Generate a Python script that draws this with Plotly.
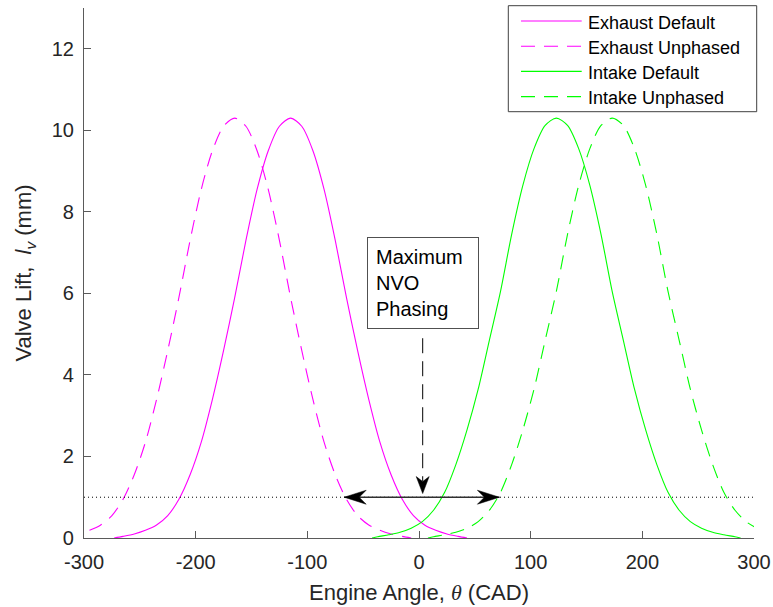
import plotly.graph_objects as go

# ---- valve lift traces: engine angle (CAD) vs valve lift (mm) ----
EXH_DEFAULT_DEG = [-273, -265, -255, -245, -235, -225, -215, -205, -195, -185, -175,
                   -165, -155, -145, -135, -125, -115, -105, -95, -85, -75, -65, -55,
                   -45, -35, -25, -15, -5, 5, 15, 25, 35, 43]
EXH_DEFAULT_LIFT = [0.0, 0.04, 0.10, 0.19, 0.32, 0.55, 0.95, 1.55, 2.35, 3.40, 4.60,
                    5.90, 7.30, 8.55, 9.50, 10.10, 10.30, 10.10, 9.50, 8.55, 7.30, 5.90,
                    4.60, 3.40, 2.35, 1.55, 0.95, 0.55, 0.32, 0.19, 0.10, 0.04, 0.0]

EXH_UNPHASED_DEG = [-315, -305, -295, -285, -275, -265, -255, -245, -235, -225, -215,
                    -205, -195, -185, -175, -165, -155, -145, -135, -125, -115, -105,
                    -95, -85, -75, -65, -55, -45, -35, -25, -15, -7]
EXH_UNPHASED_LIFT = [0.04, 0.10, 0.19, 0.32, 0.55, 0.95, 1.55, 2.35, 3.40, 4.60, 5.90,
                     7.30, 8.55, 9.50, 10.10, 10.30, 10.10, 9.50, 8.55, 7.30, 5.90, 4.60,
                     3.40, 2.35, 1.55, 0.95, 0.55, 0.32, 0.19, 0.10, 0.04, 0.0]

INT_DEFAULT_DEG = [-42, -37, -27, -17, -7, 3, 13, 23, 33, 43, 53, 63, 73, 83, 93, 103,
                   113, 123, 133, 143, 153, 163, 173, 183, 193, 203, 213, 223, 233, 243,
                   253, 263, 273, 283, 288]
INT_DEFAULT_LIFT = [0.0, 0.03, 0.08, 0.14, 0.24, 0.40, 0.68, 1.12, 1.80, 2.65, 3.65,
                    4.85, 6.05, 7.45, 8.65, 9.55, 10.12, 10.30, 10.12, 9.55, 8.65, 7.45,
                    6.05, 4.85, 3.65, 2.65, 1.80, 1.12, 0.68, 0.40, 0.24, 0.14, 0.08,
                    0.03, 0.0]

INT_UNPHASED_DEG = [8, 13, 23, 33, 43, 53, 63, 73, 83, 93, 103, 113, 123, 133, 143, 153,
                    163, 173, 183, 193, 203, 213, 223, 233, 243, 253, 263, 273, 283, 293,
                    303, 313]
INT_UNPHASED_LIFT = [0.0, 0.03, 0.08, 0.14, 0.24, 0.40, 0.68, 1.12, 1.80, 2.65, 3.65,
                     4.85, 6.05, 7.45, 8.65, 9.55, 10.12, 10.30, 10.12, 9.55, 8.65, 7.45,
                     6.05, 4.85, 3.65, 2.65, 1.80, 1.12, 0.68, 0.40, 0.24, 0.14]

SERIES_NAMES = ["Exhaust Default", "Exhaust Unphased", "Intake Default", "Intake Unphased"]

# reference lift level and the NVO phasing window drawn on it
THRESHOLD_LIFT = 1.0
THRESHOLD_SPAN = [-300, 300]
NVO_WINDOW = [-67, 72]
NVO_POINTER_DEG = 3.3
NVO_POINTER_TOP = 4.9
NVO_POINTER_TIP = 1.09
NVO_LABEL = "Maximum<br>NVO<br>Phasing"
NVO_LABEL_LEFT_DEG = -46.5
NVO_LABEL_TOP = 7.39

X_RANGE = [-300, 300]
Y_RANGE = [0, 13]
X_TICKS = [-300, -200, -100, 0, 100, 200, 300]
X_TICK_LABELS = ["-300", "-200", "-100", "0", "100", "200", "300"]
Y_TICKS = [0, 2, 4, 6, 8, 10, 12]
Y_TICK_LABELS = ["0", "2", "4", "6", "8", "10", "12"]

# ---- styling ----
MAGENTA = "#FF00FF"
GREEN = "#00FF00"
AXIS_COLOR = "#262626"
FONT = "Liberation Sans, Arial, Helvetica, sans-serif"
DASH = "14px,9px"

W, H = 773, 607
M_L, M_R, M_T, M_B = 84, 19, 8, 69
PLOT_W = W - M_L - M_R
PLOT_H = H - M_T - M_B


def paper_x(px):
    return (px - M_L) / PLOT_W


def paper_y(py):
    return (M_T + PLOT_H - py) / PLOT_H


series = [
    (EXH_DEFAULT_DEG, EXH_DEFAULT_LIFT, MAGENTA, "solid"),
    (EXH_UNPHASED_DEG, EXH_UNPHASED_LIFT, MAGENTA, DASH),
    (INT_DEFAULT_DEG, INT_DEFAULT_LIFT, GREEN, "solid"),
    (INT_UNPHASED_DEG, INT_UNPHASED_LIFT, GREEN, DASH),
]

fig = go.Figure()
for name, (xs, ys, color, dash) in zip(SERIES_NAMES, series):
    fig.add_trace(go.Scatter(
        x=xs, y=ys, name=name, mode="lines", showlegend=False,
        line=dict(color=color, width=1.1, dash=dash, shape="spline", smoothing=0.8),
        hoverinfo="skip",
    ))

# dotted reference line at 1 mm lift
fig.add_trace(go.Scatter(
    x=THRESHOLD_SPAN, y=[THRESHOLD_LIFT, THRESHOLD_LIFT], mode="lines",
    showlegend=False, hoverinfo="skip",
    line=dict(color="black", width=1, dash="1px,3px"),
))

shapes = []
annotations = []

# double-headed arrow across the NVO window
shapes.append(dict(type="line", xref="x", yref="y",
                   x0=NVO_WINDOW[0], x1=NVO_WINDOW[1], y0=THRESHOLD_LIFT, y1=THRESHOLD_LIFT,
                   line=dict(color="#303030", width=1.6)))
for anchor, sgn in ((NVO_WINDOW[0], 1), (NVO_WINDOW[1], -1)):
    shapes.append(dict(
        type="path", xref="x", yref="y", xsizemode="pixel", ysizemode="pixel",
        xanchor=anchor, yanchor=THRESHOLD_LIFT,
        path=f"M0,0 L{22 * sgn},7 L{15 * sgn},0 L{22 * sgn},-7 Z",
        fillcolor="black", line=dict(color="black", width=0.5),
    ))

# dashed pointer from the label down to the window
shapes.append(dict(type="line", xref="x", yref="y",
                   x0=NVO_POINTER_DEG, x1=NVO_POINTER_DEG,
                   y0=NVO_POINTER_TOP, y1=NVO_POINTER_TIP + 0.3,
                   line=dict(color="black", width=1, dash="15px,8px")))
shapes.append(dict(
    type="path", xref="x", yref="y", xsizemode="pixel", ysizemode="pixel",
    xanchor=NVO_POINTER_DEG, yanchor=NVO_POINTER_TIP,
    path="M0,0 L-6.5,17 L0,12 L6.5,17 Z",
    fillcolor="black", line=dict(color="black", width=0.5),
))

annotations.append(dict(
    x=NVO_LABEL_LEFT_DEG, y=NVO_LABEL_TOP, xref="x", yref="y",
    xanchor="left", yanchor="top", showarrow=False, align="left",
    text=NVO_LABEL, width=94,
    font=dict(family=FONT, size=20, color="black"),
    bgcolor="white", bordercolor="#505050", borderwidth=1, borderpad=8,
))

# legend box
LEG_BOX = (508.3, 5.7, 756.7, 111.7)
LEG_ROWS = [21.0, 46.2, 71.4, 96.6]
LEG_LINE = (521.0, 581.7)
LEG_TEXT_X = 585.5
shapes.append(dict(type="rect", xref="paper", yref="paper",
                   x0=paper_x(LEG_BOX[0]), x1=paper_x(LEG_BOX[2]),
                   y0=paper_y(LEG_BOX[3]), y1=paper_y(LEG_BOX[1]),
                   fillcolor="white", line=dict(color="#404040", width=1)))
for name, (_, _, color, dash), row in zip(SERIES_NAMES, series, LEG_ROWS):
    shapes.append(dict(type="line", xref="paper", yref="paper",
                       x0=paper_x(LEG_LINE[0]), x1=paper_x(LEG_LINE[1]),
                       y0=paper_y(row), y1=paper_y(row),
                       line=dict(color=color, width=1.1, dash=dash)))
    annotations.append(dict(
        x=paper_x(LEG_TEXT_X), y=paper_y(row + 1.5), xref="paper", yref="paper",
        xanchor="left", yanchor="middle", showarrow=False, text=name,
        font=dict(family=FONT, size=18, color="black"),
    ))

axis_common = dict(
    showline=True, linecolor="#5a5a5a", linewidth=1.2,
    ticks="inside", ticklen=7, tickwidth=1, tickcolor="#5a5a5a",
    showgrid=False, zeroline=False,
    tickfont=dict(family=FONT, size=20, color=AXIS_COLOR),
)

fig.update_layout(
    width=W, height=H,
    margin=dict(l=M_L, r=M_R, t=M_T, b=M_B, autoexpand=False),
    paper_bgcolor="white", plot_bgcolor="white",
    showlegend=False,
    xaxis=dict(range=X_RANGE, tickvals=X_TICKS, ticktext=X_TICK_LABELS,
               ticklabelstandoff=6, **axis_common,
               title=dict(text="Engine Angle, <span style=\"font-family:'Liberation Serif'\"><i>θ</i></span> (CAD)",
                          font=dict(family=FONT, size=22, color=AXIS_COLOR), standoff=12)),
    yaxis=dict(range=Y_RANGE, tickvals=Y_TICKS, ticktext=Y_TICK_LABELS,
               ticklabelstandoff=5, **axis_common,
               title=dict(text="Valve Lift,  <i>l</i><sub><i>v</i></sub> (mm)",
                          font=dict(family=FONT, size=22, color=AXIS_COLOR), standoff=13)),
    shapes=shapes,
    annotations=annotations,
)

fig.write_html("out.html")
